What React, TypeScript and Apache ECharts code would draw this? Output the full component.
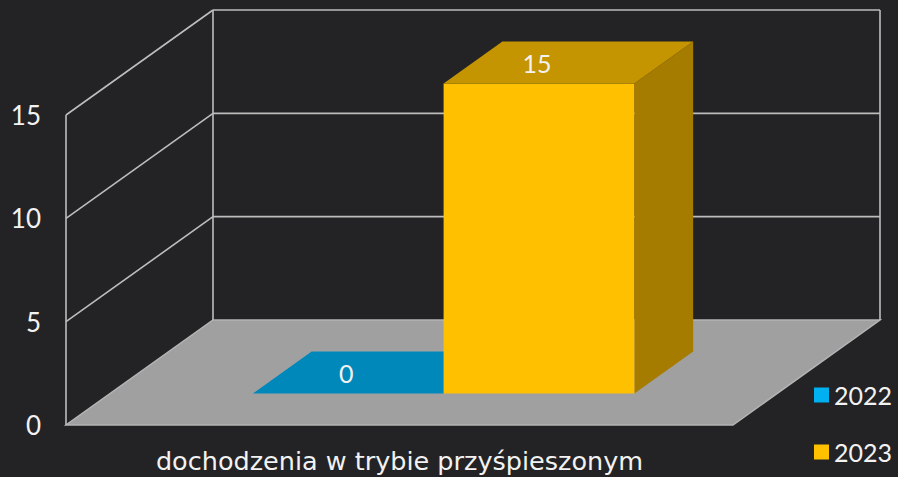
import React, { useEffect, useRef } from 'react';
import * as echarts from 'echarts';

const categories = ['dochodzenia w trybie przyśpieszonym'];
const seriesNames = ['2022', '2023'];
const values2022 = [0];
const values2023 = [15];
const yTicks = [0, 5, 10, 15];

const DEPTH_X = 147;
const DEPTH_Y = -105;
const BAR_FRONT = 0.3;
const BAR_BACK = 0.7;
const BAR_FRAC = 0.286;
const FONT = 'Lato, "Noto Sans", sans-serif';
const WIDE_FONT = '"DejaVu Sans", Lato, sans-serif';
const TEXT = '#f2f2f2';
const LINE = '#bdbdbd';

const palettes = [
  { front: '#00a0d8', top: '#0088bb', side: '#006f99', legend: '#00b0f0' },
  { front: '#ffc000', top: '#c49500', side: '#a67c00', legend: '#ffc000' },
];

function barRenderer(s: number) {
  return (params: any, api: any) => {
    const cat = api.value(0);
    const val = api.value(1);
    const top = api.coord([cat, val]);
    const base = api.coord([cat, 0]);
    const band = api.size([1, 0])[0];
    const w = band * BAR_FRAC;
    const cx = top[0];
    const xl = s === 0 ? cx - w : cx;
    const xr = xl + w;
    const fx = DEPTH_X * BAR_FRONT;
    const fy = DEPTH_Y * BAR_FRONT;
    const dx = DEPTH_X * (BAR_BACK - BAR_FRONT);
    const dy = DEPTH_Y * (BAR_BACK - BAR_FRONT);
    const L = xl + fx;
    const R = xr + fx;
    const T = top[1] + fy;
    const B = base[1] + fy;
    const p = palettes[s];
    const children: any[] = [];
    if (B - T > 0.5) {
      children.push({
        type: 'polygon',
        shape: { points: [[R, T], [R + dx, T + dy], [R + dx, B + dy], [R, B]] },
        style: { fill: p.side },
      });
      children.push({
        type: 'polygon',
        shape: { points: [[L, T], [R, T], [R, B], [L, B]] },
        style: { fill: p.front },
      });
    }
    children.push({
      type: 'polygon',
      shape: { points: [[L, T], [R, T], [R + dx, T + dy], [L + dx, T + dy]] },
      style: { fill: p.top },
    });
    children.push({
      type: 'text',
      style: {
        x: (L + R) / 2 - 2,
        y: T + dy / 2,
        text: String(val),
        fill: TEXT,
        fontSize: 25,
        fontFamily: FONT,
        align: 'center',
        verticalAlign: 'middle',
      },
    });
    return { type: 'group', children };
  };
}

function frameRenderer(params: any, api: any) {
  const band = api.size([1, 0])[0];
  const c = api.coord([0, 0]);
  const x0 = c[0] - band / 2;
  const x1 = c[0] + band / 2;
  const y0 = c[1];
  const yMax = api.coord([0, yTicks[yTicks.length - 1]])[1];
  const children: any[] = [];
  const ls = { stroke: LINE, lineWidth: 1.6 };
  children.push({
    type: 'polygon',
    shape: { points: [[x0, y0], [x1, y0], [x1 + DEPTH_X, y0 + DEPTH_Y], [x0 + DEPTH_X, y0 + DEPTH_Y]] },
    style: { fill: '#a0a0a0', stroke: '#b4b4b4', lineWidth: 1.5 },
  });
  yTicks.forEach((v) => {
    const y = api.coord([0, v])[1];
    if (v > 0) {
      children.push({
        type: 'line',
        shape: { x1: x0 + DEPTH_X, y1: y + DEPTH_Y, x2: x1 + DEPTH_X, y2: y + DEPTH_Y },
        style: ls,
      });
      children.push({
        type: 'line',
        shape: { x1: x0, y1: y, x2: x0 + DEPTH_X, y2: y + DEPTH_Y },
        style: ls,
      });
    }
  });
  children.push({
    type: 'line',
    shape: { x1: x0 + DEPTH_X, y1: yMax + DEPTH_Y, x2: x0 + DEPTH_X, y2: y0 + DEPTH_Y },
    style: ls,
  });
  children.push({
    type: 'line',
    shape: { x1: x1 + DEPTH_X, y1: yMax + DEPTH_Y, x2: x1 + DEPTH_X, y2: y0 + DEPTH_Y },
    style: ls,
  });
  children.push({
    type: 'line',
    shape: { x1: x0, y1: yMax, x2: x0, y2: y0 },
    style: ls,
  });
  return { type: 'group', children };
}

export default function App() {
  const ref = useRef<HTMLDivElement>(null);
  useEffect(() => {
    if (!ref.current) return;
    const chart = echarts.init(ref.current, null, { renderer: 'svg' });
    chart.setOption({
      animation: false,
      backgroundColor: '#232325',
      grid: { left: 66, right: 165, top: 115, bottom: 52 },
      legend: {
        data: seriesNames,
        orient: 'vertical',
        left: 814,
        top: 381,
        padding: 0,
        icon: 'rect',
        itemWidth: 15,
        itemHeight: 15,
        itemGap: 29,
        textStyle: { color: TEXT, fontSize: 25, fontFamily: FONT, lineHeight: 28 },
      },
      xAxis: {
        type: 'category',
        data: categories,
        axisLine: { show: false },
        axisTick: { show: false },
        axisLabel: { color: TEXT, fontSize: 25.5, fontFamily: WIDE_FONT, margin: 23 },
      },
      yAxis: {
        type: 'value',
        min: 0,
        max: 15,
        interval: 5,
        axisLine: { show: false },
        axisTick: { show: false },
        splitLine: { show: false },
        axisLabel: { color: TEXT, fontSize: 26, fontFamily: FONT, margin: 25 },
      },
      series: [
        {
          type: 'custom',
          name: 'frame',
          clip: false,
          z: 1,
          data: [[0, 0]],
          encode: { x: 0, y: 1 },
          renderItem: frameRenderer,
          silent: true,
        },
        {
          type: 'custom',
          name: seriesNames[0],
          clip: false,
          z: 2,
          data: values2022.map((v, i) => [i, v]),
          encode: { x: 0, y: 1 },
          itemStyle: { color: palettes[0].legend },
          renderItem: barRenderer(0),
        },
        {
          type: 'custom',
          name: seriesNames[1],
          clip: false,
          z: 3,
          data: values2023.map((v, i) => [i, v]),
          encode: { x: 0, y: 1 },
          itemStyle: { color: palettes[1].legend },
          renderItem: barRenderer(1),
        },
      ],
    });
    return () => chart.dispose();
  }, []);
  return (
    <div
      ref={ref}
      style={{ position: 'fixed', left: 0, top: 0, width: 898, height: 477 }}
    />
  );
}
